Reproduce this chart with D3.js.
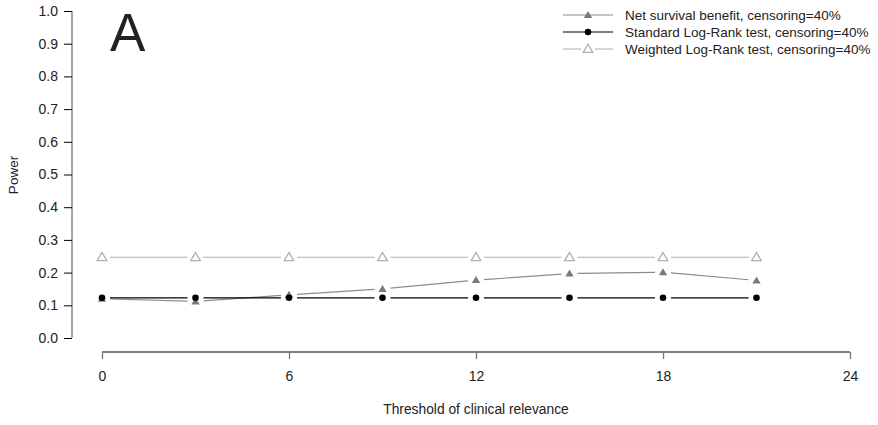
<!DOCTYPE html>
<html>
<head>
<meta charset="utf-8">
<script src="https://cdn.jsdelivr.net/npm/d3@7"></script>
<style>
  body { margin: 0; background: #fff; }
  text { font-family: "Liberation Sans", Arial, sans-serif; }
</style>
</head>
<body>
<div class="chart_frame"></div>
<script>
// data
var thresholds = [0, 3, 6, 9, 12, 15, 18, 21];
var net_benefit = [0.12, 0.112, 0.132, 0.150, 0.177, 0.197, 0.201, 0.176];
var standard_lr = [0.123, 0.123, 0.123, 0.123, 0.123, 0.123, 0.123, 0.123];
var weighted_lr = [0.247, 0.247, 0.247, 0.247, 0.247, 0.247, 0.247, 0.247];
var x_ticks = [0, 6, 12, 18, 24];
var y_ticks = [0, 0.1, 0.2, 0.3, 0.4, 0.5, 0.6, 0.7, 0.8, 0.9, 1.0];
var legend_labels = [
    'Net survival benefit, censoring=40%',
    'Standard Log-Rank test, censoring=40%',
    'Weighted Log-Rank test, censoring=40%'
];

var width = 878, height = 425;

var series = [
    {'values': net_benefit, 'line': '#8c8c8c', 'shape': 'tri_fill', 'color': '#7a7a7a'},
    {'values': standard_lr, 'line': '#000', 'shape': 'circle', 'color': '#000'},
    {'values': weighted_lr, 'line': '#b0b0b0', 'shape': 'tri_open', 'color': '#b0b0b0'}
];

var x = d3.scaleLinear().domain([0, 24]).range([102, 850]);
var y = d3.scaleLinear().domain([0, 1]).range([338, 11]);

var svg = d3.select('.chart_frame').append('svg')
    .attr('width', width)
    .attr('height', height);

// y axis
var y_axis = svg.append('g')
    .attr('transform', 'translate(72,0)')
    .call(d3.axisLeft(y).tickValues(y_ticks).tickFormat(d3.format('.1f')).tickSize(8).tickPadding(6));
y_axis.select('.domain').attr('stroke', '#888').attr('stroke-width', 1.5).attr('d', 'M0,' + y(0) + 'V' + y(1));
y_axis.selectAll('.tick line').attr('stroke', '#000');
y_axis.selectAll('.tick text').attr('font-size', 14).attr('fill', '#222')
    .attr('font-family', '"Liberation Sans", Arial, sans-serif');

// x axis
var x_axis = svg.append('g')
    .attr('transform', 'translate(0,352)')
    .call(d3.axisBottom(x).tickValues(x_ticks).tickSize(7).tickPadding(12));
x_axis.select('.domain').attr('stroke', '#000').attr('stroke-width', 1.2).attr('d', 'M' + x(0) + ',0H' + x(24));
x_axis.selectAll('.tick line').attr('stroke', '#777').attr('stroke-width', 1.3);
x_axis.selectAll('.tick text').attr('font-size', 14).attr('fill', '#222')
    .attr('font-family', '"Liberation Sans", Arial, sans-serif');

// axis titles
svg.append('text')
    .attr('x', 476).attr('y', 414)
    .attr('text-anchor', 'middle')
    .attr('font-size', 13.8).attr('fill', '#222')
    .text('Threshold of clinical relevance');
svg.append('text')
    .attr('transform', 'translate(18,175) rotate(-90)')
    .attr('text-anchor', 'middle')
    .attr('font-size', 13.5).attr('fill', '#222')
    .text('Power');

// panel letter
svg.append('text')
    .attr('x', 110).attr('y', 51)
    .attr('font-size', 53).attr('fill', '#222')
    .text('A');

function draw_marker(g, shape, color, cx, cy) {
    if (shape == 'circle') {
        g.append('circle').attr('cx', cx).attr('cy', cy).attr('r', 3.3).attr('fill', color);
    } else if (shape == 'tri_fill') {
        g.append('polygon')
            .attr('points', [[cx, cy - 4], [cx - 4.2, cy + 3], [cx + 4.2, cy + 3]].map(function(d) { return d.join(','); }).join(' '))
            .attr('fill', color);
    } else {
        var s = 4.8;
        g.append('polygon')
            .attr('points', [[cx, cy - s], [cx - s, cy + s * 0.7], [cx + s, cy + s * 0.7]].map(function(d) { return d.join(','); }).join(' '))
            .attr('fill', 'none').attr('stroke', color).attr('stroke-width', 1.3);
    }
}

// lines with gaps (type "b") and markers
var gap = 8;
series.forEach(function(s) {
    var g = svg.append('g');
    for (var i = 0; i < thresholds.length - 1; i++) {
        var x1 = x(thresholds[i]), y1 = y(s.values[i]),
            x2 = x(thresholds[i + 1]), y2 = y(s.values[i + 1]);
        var len = Math.sqrt((x2 - x1) * (x2 - x1) + (y2 - y1) * (y2 - y1));
        var ux = (x2 - x1) / len, uy = (y2 - y1) / len;
        g.append('line')
            .attr('x1', x1 + ux * gap).attr('y1', y1 + uy * gap)
            .attr('x2', x2 - ux * gap).attr('y2', y2 - uy * gap)
            .attr('stroke', s.line).attr('stroke-width', 1.2);
    }
    for (var i = 0; i < thresholds.length; i++) {
        draw_marker(g, s.shape, s.color, x(thresholds[i]), y(s.values[i]));
    }
});

// legend
var legend = svg.append('g');
legend_labels.forEach(function(label, i) {
    var ly = 15 + i * 17;
    var s = series[i];
    legend.append('line')
        .attr('x1', 563).attr('x2', 613).attr('y1', ly).attr('y2', ly)
        .attr('stroke', s.line).attr('stroke-width', 1.2);
    if (s.shape == 'tri_open') {
        legend.append('rect').attr('x', 581).attr('y', ly - 6).attr('width', 14).attr('height', 12).attr('fill', '#fff');
    }
    draw_marker(legend, s.shape, s.color, 588, ly);
    legend.append('text')
        .attr('x', 625).attr('y', ly + 5)
        .attr('font-size', 13.5).attr('fill', '#222')
        .text(label);
});
</script>
</body>
</html>
